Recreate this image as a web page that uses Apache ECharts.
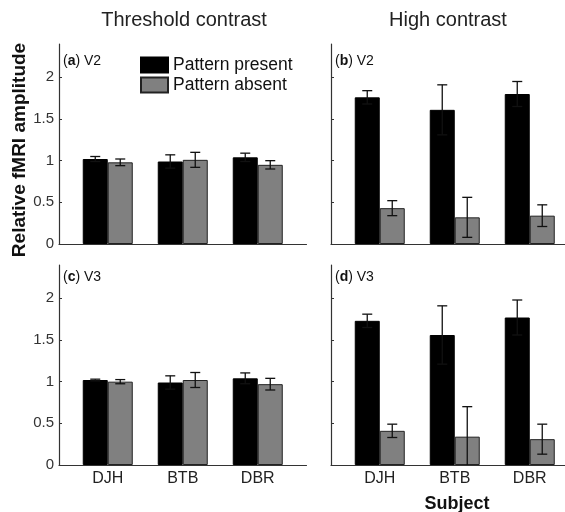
<!DOCTYPE html>
<html><head><meta charset="utf-8">
<script src="https://cdn.jsdelivr.net/npm/echarts@6/dist/echarts.min.js"></script>
<style>html,body{margin:0;padding:0;background:#fff}#c{width:565px;height:512px}</style>
</head><body><div id="c"></div>
<script>
const subjects = ['DJH', 'BTB', 'DBR'];
const yTicks = [0, 0.5, 1, 1.5, 2];
const seriesNames = ['Pattern present', 'Pattern absent'];
const columnTitles = ['Threshold contrast', 'High contrast'];
const panelLetters = ['a', 'b', 'c', 'd'];
const panelAreas = ['V2', 'V2', 'V3', 'V3'];
const yAxisTitle = 'Relative fMRI amplitude';
const xAxisTitle = 'Subject';

// (a) V2 threshold contrast
const v2ThresholdPresent = [1.02, 0.99, 1.04];
const v2ThresholdPresentErr = [0.03, 0.08, 0.05];
const v2ThresholdAbsent = [0.98, 1.01, 0.95];
const v2ThresholdAbsentErr = [0.04, 0.09, 0.05];
// (b) V2 high contrast
const v2HighPresent = [1.76, 1.61, 1.80];
const v2HighPresentErr = [0.08, 0.30, 0.15];
const v2HighAbsent = [0.43, 0.32, 0.34];
const v2HighAbsentErr = [0.09, 0.24, 0.13];
// (c) V3 threshold contrast
const v3ThresholdPresent = [1.02, 0.99, 1.04];
const v3ThresholdPresentErr = [0.01, 0.08, 0.065];
const v3ThresholdAbsent = [1.00, 1.02, 0.97];
const v3ThresholdAbsentErr = [0.025, 0.09, 0.07];
// (d) V3 high contrast
const v3HighPresent = [1.73, 1.56, 1.77];
const v3HighPresentErr = [0.08, 0.35, 0.21];
const v3HighAbsent = [0.41, 0.34, 0.31];
const v3HighAbsentErr = [0.08, 0.36, 0.18];

const panels = [
  [v2ThresholdPresent, v2ThresholdPresentErr, v2ThresholdAbsent, v2ThresholdAbsentErr],
  [v2HighPresent, v2HighPresentErr, v2HighAbsent, v2HighAbsentErr],
  [v3ThresholdPresent, v3ThresholdPresentErr, v3ThresholdAbsent, v3ThresholdAbsentErr],
  [v3HighPresent, v3HighPresentErr, v3HighAbsent, v3HighAbsentErr]
];

const FONT = '"Liberation Sans", Arial, Helvetica, sans-serif';
const gridPos = [
  {left: 59, top: 44}, {left: 331, top: 44},
  {left: 59, top: 265}, {left: 331, top: 265}
];
const grids = gridPos.map(p => ({left: p.left, top: p.top, width: 247.5, height: 200, outerBoundsMode: 'none', containLabel: false}));

const xAxes = grids.map((g, i) => ({
  type: 'value', gridIndex: i, min: 0.35, max: 3.65,
  axisLine: {show: true, onZero: false, lineStyle: {color: '#333', width: 1.2}},
  axisTick: {show: false},
  splitLine: {show: false},
  axisLabel: {
    show: i >= 2, customValues: [1, 2, 3],
    formatter: v => subjects[Math.round(v) - 1] || '',
    fontFamily: FONT, fontSize: 16, color: '#222', margin: 6
  }
}));

const yAxes = grids.map((g, i) => ({
  type: 'value', gridIndex: i, min: 0, max: 2.4,
  axisLine: {show: true, lineStyle: {color: '#333', width: 1.2}},
  axisTick: {show: true, inside: true, length: 3, customValues: yTicks, lineStyle: {color: '#333'}},
  splitLine: {show: false},
  axisLabel: {
    show: i % 2 === 0, customValues: yTicks,
    formatter: v => String(v),
    fontFamily: FONT, fontSize: 15, color: '#333', margin: 5
  }
}));

function errRenderer(offset) {
  return function (params, api) {
    const x = api.value(0), y = api.value(1), e = api.value(2);
    const lo = y - e;
    const top = api.coord([x, y + e]);
    const bot = api.coord([x, Math.max(0, lo)]);
    const cx = top[0] + offset;
    const cap = 5;
    const style = {stroke: '#111', lineWidth: 1.3};
    const children = [
      {type: 'line', shape: {x1: cx, y1: top[1], x2: cx, y2: bot[1]}, style},
      {type: 'line', shape: {x1: cx - cap, y1: top[1], x2: cx + cap, y2: top[1]}, style}
    ];
    if (lo > 0) children.push({type: 'line', shape: {x1: cx - cap, y1: bot[1], x2: cx + cap, y2: bot[1]}, style});
    return {type: 'group', children};
  };
}

const series = [];
panels.forEach((p, i) => {
  const [pres, presErr, abs, absErr] = p;
  series.push({
    name: seriesNames[0], type: 'bar', xAxisIndex: i, yAxisIndex: i,
    barWidth: 25, barGap: '0%',
    itemStyle: {color: '#000', borderColor: '#000', borderWidth: 1},
    data: pres.map((v, k) => [k + 1, v])
  });
  series.push({
    name: seriesNames[1], type: 'bar', xAxisIndex: i, yAxisIndex: i,
    barWidth: 25, barGap: '0%',
    itemStyle: {color: '#808080', borderColor: '#222', borderWidth: 1},
    data: abs.map((v, k) => [k + 1, v])
  });
  series.push({
    type: 'custom', xAxisIndex: i, yAxisIndex: i, z: 5,
    renderItem: errRenderer(-12.5),
    data: pres.map((v, k) => [k + 1, v, presErr[k]])
  });
  series.push({
    type: 'custom', xAxisIndex: i, yAxisIndex: i, z: 5,
    renderItem: errRenderer(12.5),
    data: abs.map((v, k) => [k + 1, v, absErr[k]])
  });
});

const labelPos = [[63, 61], [335, 61], [63, 277], [335, 277]];
const graphic = [
  {type: 'text', x: 184, y: 20, style: {text: columnTitles[0], font: '20px ' + FONT, fill: '#222', align: 'center', verticalAlign: 'middle'}},
  {type: 'text', x: 448, y: 20, style: {text: columnTitles[1], font: '20px ' + FONT, fill: '#222', align: 'center', verticalAlign: 'middle'}},
  {type: 'text', x: 20, y: 150, rotation: Math.PI / 2,
   style: {text: yAxisTitle, font: 'bold 19px ' + FONT, fill: '#111', align: 'center', verticalAlign: 'middle'}},
  {type: 'text', x: 457, y: 504,
   style: {text: xAxisTitle, font: 'bold 18px ' + FONT, fill: '#111', align: 'center', verticalAlign: 'middle'}}
];
labelPos.forEach((pos, i) => {
  graphic.push({
    type: 'text', x: pos[0], y: pos[1],
    style: {
      text: '(' + '{b|' + panelLetters[i] + '}' + ') ' + panelAreas[i],
      font: '14px ' + FONT, fill: '#111', verticalAlign: 'middle',
      rich: {b: {fontWeight: 'bold', fontSize: 14, fontFamily: FONT, fill: '#111'}}
    }
  });
});

const chart = echarts.init(document.getElementById('c'), null, {renderer: 'canvas'});
chart.setOption({
  animation: false,
  backgroundColor: '#fff',
  legend: {
    data: seriesNames, orient: 'vertical', left: 140, top: 56, padding: 0,
    itemWidth: 27, itemHeight: 15, itemGap: 2, icon: 'rect',
    textStyle: {fontFamily: FONT, fontSize: 17.5, color: '#111'}
  },
  grid: grids, xAxis: xAxes, yAxis: yAxes, series, graphic
});
</script></body></html>
